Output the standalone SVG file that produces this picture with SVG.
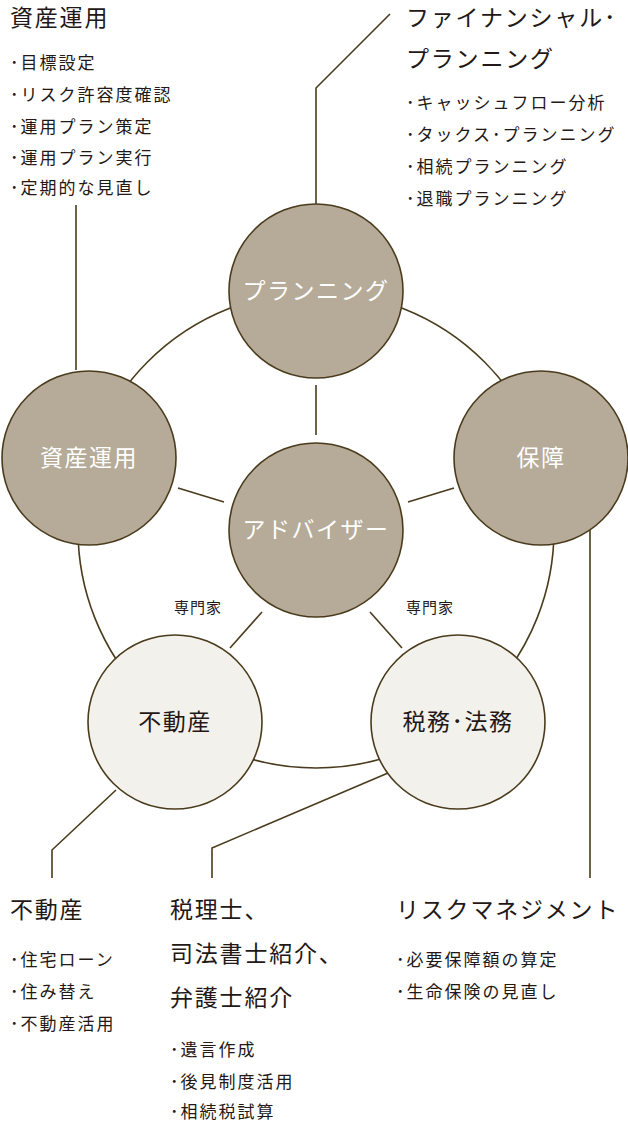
<svg xmlns="http://www.w3.org/2000/svg" width="628" height="1122" viewBox="0 0 628 1122">
<style>
text{font-family:"Noto Sans CJK JP","Noto Sans",sans-serif;fill:#231815;font-weight:400}
.ln{stroke:#4a3b1c;stroke-width:1.6;fill:none}
.dk{fill:#b5ab98;stroke:#4a3b1c;stroke-width:1.6}
.lt{fill:#f3f1ec;stroke:#4a3b1c;stroke-width:1.6}
.cw{fill:#fff;font-size:23px;text-anchor:middle;letter-spacing:1.5px}
.cb{font-size:23px;text-anchor:middle;letter-spacing:1.5px}
.h{font-size:23px;letter-spacing:1.8px}
.s{font-size:17px;letter-spacing:2px}
</style>
<rect width="628" height="1122" fill="#fff"/>
<g id="connectors">
<circle class="ln" cx="316" cy="530" r="238"/>
<path class="ln" d="M316 385V435M178 488L224 502M408 502L454 488M230 648L262 612M370 612L402 648"/>
<path class="ln" d="M76 205V370M316 205V88L390 14M590 525V878M116 790L52 850V878M388 773L212 848V878"/>
</g>
<g id="planning"><circle class="dk" cx="316" cy="291" r="87"/><text class="cw" x="316" y="299">プランニング</text></g>
<g id="shisan"><circle class="dk" cx="89" cy="458" r="87"/><text class="cw" x="89" y="466">資産運用</text></g>
<g id="hosho"><circle class="dk" cx="541" cy="458" r="87"/><text class="cw" x="541" y="466">保障</text></g>
<g id="advisor"><circle class="dk" cx="316" cy="530" r="87"/><text class="cw" x="316" y="538">アドバイザー</text></g>
<g id="fudosan"><circle class="lt" cx="175" cy="722" r="87"/><text class="cb" x="175" y="730">不動産</text></g>
<g id="zeimu"><circle class="lt" cx="458" cy="722" r="87"/><text class="cb" x="458" y="730">税務･法務</text></g>
<text class="s" x="198" y="613" text-anchor="middle" style="font-size:15px;letter-spacing:1px">専門家</text>
<text class="s" x="430" y="613" text-anchor="middle" style="font-size:15px;letter-spacing:1px">専門家</text>
<g id="t1"><text class="h" x="10" y="26">資産運用</text>
<text class="s" x="10" y="69">･目標設定</text><text class="s" x="10" y="101">･リスク許容度確認</text><text class="s" x="10" y="133">･運用プラン策定</text><text class="s" x="10" y="164">･運用プラン実行</text><text class="s" x="10" y="194">･定期的な見直し</text></g>
<g id="t2"><text class="h" x="406" y="26">ファイナンシャル･</text><text class="h" x="406" y="67">プランニング</text>
<text class="s" x="406" y="109">･キャッシュフロー分析</text><text class="s" x="406" y="141">･タックス･プランニング</text><text class="s" x="406" y="173">･相続プランニング</text><text class="s" x="406" y="205">･退職プランニング</text></g>
<g id="t3"><text class="h" x="10" y="918">不動産</text>
<text class="s" x="10" y="966">･住宅ローン</text><text class="s" x="10" y="998">･住み替え</text><text class="s" x="10" y="1030">･不動産活用</text></g>
<g id="t4"><text class="h" x="170" y="918">税理士、</text><text class="h" x="170" y="962">司法書士紹介、</text><text class="h" x="170" y="1006">弁護士紹介</text>
<text class="s" x="170" y="1056">･遺言作成</text><text class="s" x="170" y="1088">･後見制度活用</text><text class="s" x="170" y="1118">･相続税試算</text></g>
<g id="t5"><text class="h" x="396" y="918">リスクマネジメント</text>
<text class="s" x="396" y="966">･必要保障額の算定</text><text class="s" x="396" y="998">･生命保険の見直し</text></g>
</svg>
